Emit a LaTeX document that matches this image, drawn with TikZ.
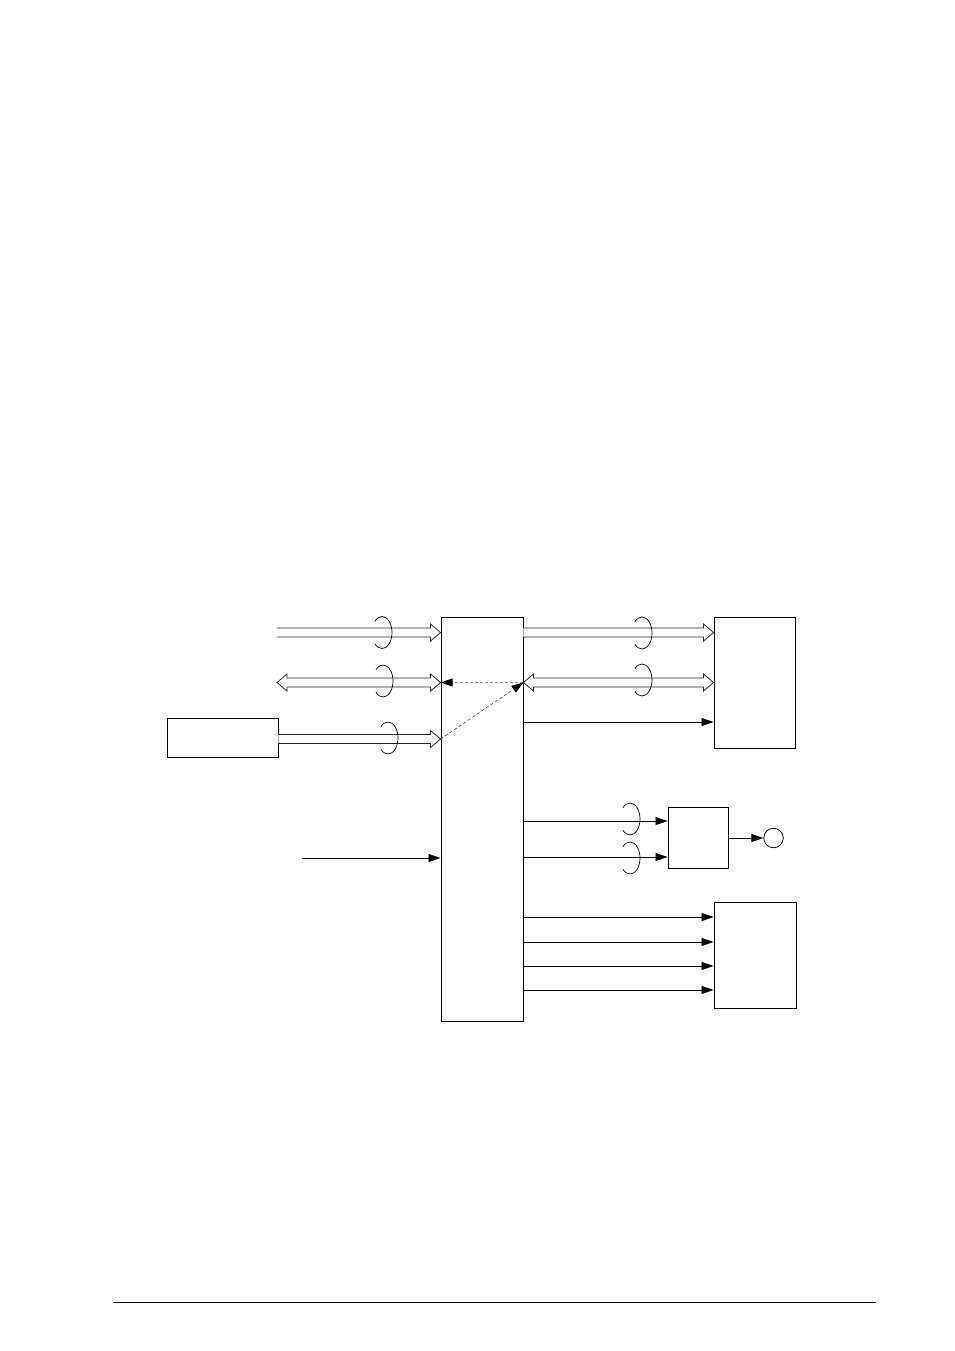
\documentclass[tikz,border=0pt]{standalone}
\usetikzlibrary{arrows.meta,calc}
\begin{document}
\begin{tikzpicture}[x=1pt,y=-1pt,
  box/.style={draw,line width=0.9pt,inner sep=0pt,minimum width=#1},
  sig/.style={line width=0.8pt,-{Triangle[length=12pt,width=8pt]}},
  hollow/.style={draw=black!85,line width=0.8pt,fill=white},
  twist/.style={line width=0.7pt},
  dashA/.style={draw=black!45,line width=1pt,dash pattern=on 3pt off 2pt,-{Triangle[length=12pt,width=8pt,fill=black,color=black]}},
  dashB/.style={draw=black!80,line width=0.6pt,dash pattern=on 3pt off 2.5pt,-{Triangle[length=12pt,width=8pt,fill=black,color=black]}}]
\useasboundingbox (0,0) rectangle (954,1351);
\newcommand\hollowR[2]{%
  \path[hollow] let \p1=(#1), \p2=(#2) in
    (\x1,\y1+4.5pt) -- (\x2-10pt,\y1+4.5pt) -- (\x2-10pt,\y1+8.5pt) -- (\x2,\y1)
    -- (\x2-10pt,\y1-8.5pt) -- (\x2-10pt,\y1-4.5pt) -- (\x1,\y1-4.5pt);}
\newcommand\hollowLR[2]{%
  \path[hollow] let \p1=(#1), \p2=(#2) in
    (\x1,\y1) -- (\x1+10pt,\y1+8.5pt) -- (\x1+10pt,\y1+4.5pt) -- (\x2-10pt,\y1+4.5pt)
    -- (\x2-10pt,\y1+8.5pt) -- (\x2,\y1) -- (\x2-10pt,\y1-8.5pt) -- (\x2-10pt,\y1-4.5pt)
    -- (\x1+10pt,\y1-4.5pt) -- (\x1+10pt,\y1-8.5pt) -- cycle;}
\newcommand\twistloop[1]{%
  \draw[twist] ([shift={(135:10 and 16)}]#1) arc[start angle=135,end angle=-135,x radius=10,y radius=16];}
% nodes
\node[box=82pt,minimum height=404pt] (main) at (482,819) {};
\node[box=81pt,minimum height=131pt] (tr) at (754.5,682.5) {};
\node[box=111pt,minimum height=39pt] (lb) at (222.5,737.5) {};
\node[box=60pt,minimum height=61pt] (sb) at (698,837.5) {};
\node[draw,circle,line width=0.8pt,inner sep=0pt,minimum size=19.5pt] (circ) at (773.5,838) {};
\node[box=82pt,minimum height=106pt] (br) at (755,955) {};
% coordinates
\coordinate (a1) at (277,632.5);
\coordinate (a2) at (277,682.5);
\coordinate (a3) at (0,739);
\coordinate (b3) at (0,722);
\coordinate (in) at (302,858);
% left hollow buses
\hollowR{a1}{main.west |- a1}
\hollowLR{a2}{main.west |- a2}
\hollowR{lb.east |- a3}{main.west |- a3}
\twistloop{382,632.5}
\twistloop{383,681}
\twistloop{388,738}
% right hollow buses
\hollowR{main.east |- a1}{tr.west |- a1}
\hollowLR{main.east |- a2}{tr.west |- a2}
\twistloop{642,633}
\twistloop{642,680}
\draw[sig] (main.east |- b3) -- (tr.west |- b3);
% dashed
\draw[dashA] (main.east |- a2) -- (main.west |- a2);
\draw[dashB] (main.west |- a3) -- (main.east |- a2);
% input
\draw[sig] (in) -- (main.west |- in);
% to small box
\coordinate (c1) at (0,821);
\coordinate (c2) at (0,857);
\draw[sig] (main.east |- c1) -- (sb.west |- c1);
\draw[sig] (main.east |- c2) -- (sb.west |- c2);
\twistloop{630,819}
\twistloop{630,858}
\draw[sig] (sb.east |- circ) -- (circ.west);
% to bottom box
\foreach \yy in {917,942,966,990}{
  \coordinate (d) at (0,\yy);
  \draw[sig] (main.east |- d) -- (br.west |- d);
}
% footer rule
\coordinate (f1) at (113,1302);
\coordinate (f2) at (876,1302);
\draw[line width=0.9pt] (f1) -- (f2);
\end{tikzpicture}
\end{document}
